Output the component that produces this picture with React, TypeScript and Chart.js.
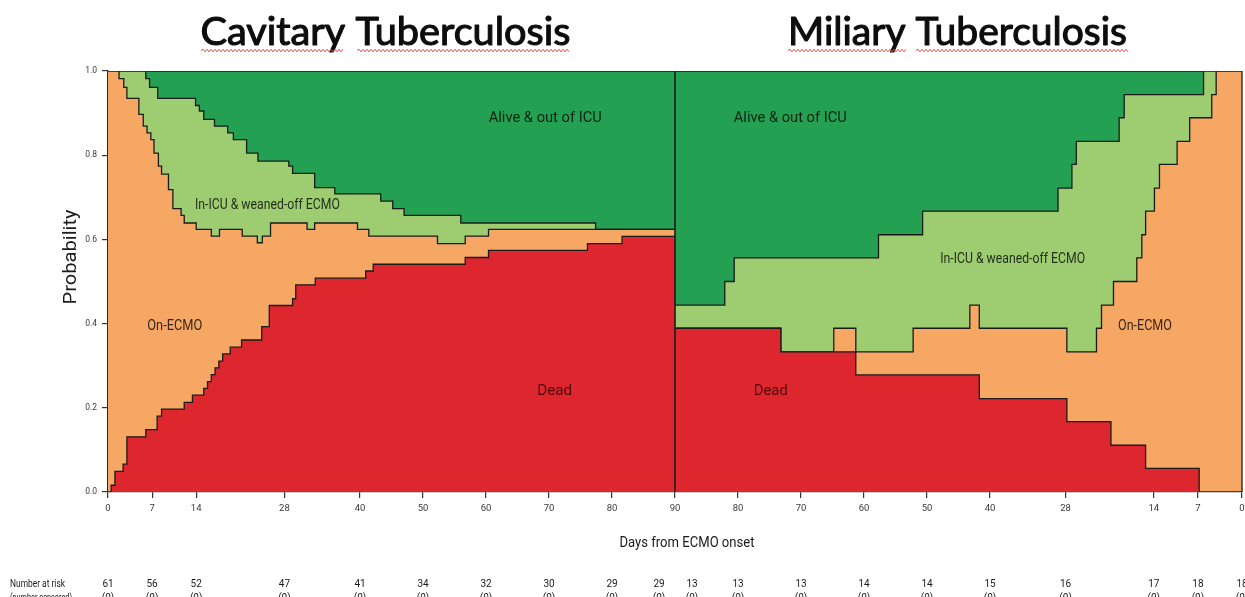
import React, { useEffect, useRef } from 'react';
import { Chart, registerables } from 'chart.js';

Chart.register(...registerables);

// ---------- text ----------
const panelTitles = ['Cavitary Tuberculosis', 'Miliary Tuberculosis'];
const xAxisTitle = 'Days from ECMO onset';
const yAxisTitle = 'Probability';
const riskRowLabel = 'Number at risk';
const censorRowLabel = '(number censored)';

// ---------- ticks ----------
const tickDays = [0, 7, 14, 28, 40, 50, 60, 70, 80, 90];
const yTicks = [0, 0.2, 0.4, 0.6, 0.8, 1.0];

// ---------- Cavitary TB (days forward) : cumulative state boundaries ----------
const cavDeadDays = [0, 0.5, 1.1, 2.4, 3.0, 6.0, 7.8, 8.5, 12.1, 13.4, 15.2, 15.8, 16.4, 17.0, 17.6, 18.2, 19.4, 21.2, 24.4, 25.6, 29.3, 29.8, 32.9, 40.9, 42.1, 56.7, 60.4, 76.1, 81.6];
const cavDead = [0, 0.016, 0.049, 0.066, 0.131, 0.148, 0.18, 0.197, 0.213, 0.23, 0.246, 0.262, 0.279, 0.295, 0.311, 0.328, 0.344, 0.361, 0.393, 0.443, 0.459, 0.492, 0.508, 0.525, 0.541, 0.557, 0.574, 0.59, 0.607];

const cavEcmoDays = [0, 1.75, 2.5, 3.0, 4.9, 5.6, 6.2, 6.8, 7.3, 8.0, 8.5, 9.6, 10.3, 11.6, 12.1, 14.0, 16.4, 17.7, 21.3, 23.7, 24.5, 25.8, 31.6, 32.8, 39.6, 41.4, 52.3, 56.7, 60.4];
const cavEcmoTop = [1.0, 0.982, 0.961, 0.935, 0.897, 0.869, 0.853, 0.837, 0.805, 0.774, 0.755, 0.718, 0.673, 0.657, 0.639, 0.624, 0.608, 0.624, 0.608, 0.592, 0.608, 0.639, 0.624, 0.639, 0.624, 0.608, 0.59, 0.608, 0.624];

const cavIcuDays = [0, 6.0, 6.6, 7.9, 13.9, 14.5, 15.2, 16.9, 19.0, 19.9, 22.0, 23.8, 28.7, 29.3, 32.8, 36.0, 43.3, 45.2, 47.0, 56.0, 77.4];
const cavIcuTop = [1.0, 0.982, 0.961, 0.935, 0.918, 0.905, 0.885, 0.869, 0.853, 0.837, 0.805, 0.786, 0.774, 0.757, 0.723, 0.708, 0.691, 0.673, 0.657, 0.639, 0.624];

// ---------- Miliary TB (days forward, drawn mirrored) ----------
const milDeadDays = [0, 6.8, 15.3, 20.8, 27.8, 41.7, 61.3, 73.2];
const milDead = [0, 0.056, 0.111, 0.167, 0.222, 0.278, 0.333, 0.389];

const milEcmoDays = [0, 4.1, 4.8, 8.3, 10.3, 13.1, 13.9, 15.3, 15.9, 16.7, 20.4, 22.3, 23.1, 27.8, 41.7, 43.2, 52.2, 61.3, 64.8, 73.2];
const milEcmoTop = [1.0, 0.944, 0.889, 0.833, 0.778, 0.722, 0.667, 0.611, 0.556, 0.5, 0.444, 0.389, 0.333, 0.389, 0.444, 0.389, 0.333, 0.389, 0.333, 0.389];

const milIcuDays = [0, 6.1, 18.7, 19.5, 26.3, 27.0, 29.2, 50.7, 57.7, 80.6, 82.1];
const milIcuTop = [1.0, 0.944, 0.889, 0.833, 0.778, 0.722, 0.667, 0.611, 0.556, 0.5, 0.444];

// ---------- numbers at risk (by tickDays) ----------
const riskCav = [61, 56, 52, 47, 41, 34, 32, 30, 29, 29];
const riskMil = [18, 18, 17, 16, 15, 14, 14, 13, 13, 13];
const censCav = [0, 0, 0, 0, 0, 0, 0, 0, 0, 0];
const censMil = [0, 0, 0, 0, 0, 0, 0, 0, 0, 0];

// ---------- styling ----------
const COLORS = {
  alive: '#23a052',
  icu: '#9dcc71',
  ecmo: '#f6a764',
  dead: '#dd262e',
};
const LINE = '#1b1b1b';
const END_DAY = 90;
const MIRROR = 180;

function leftPoints(days: number[], vals: number[]) {
  const pts = days.map((d, i) => ({ x: d, y: vals[i] }));
  pts.push({ x: END_DAY, y: vals[vals.length - 1] });
  return pts;
}
// mirrored panel: x = 180 - day; ascending x, each point carries the value held to its right
function rightPoints(days: number[], vals: number[]) {
  const n = days.length;
  const pts: { x: number; y: number }[] = [];
  pts.push({ x: MIRROR - END_DAY, y: vals[n - 1] });
  for (let i = n - 1; i >= 0; i--) {
    pts.push({ x: MIRROR - days[i], y: i > 0 ? vals[i - 1] : vals[0] });
  }
  return pts;
}

function drawText(ctx: CanvasRenderingContext2D, text: string, cx: number, cy: number, font: string, color: string, targetW?: number, align: CanvasTextAlign = 'center', baseline: CanvasTextBaseline = 'middle', rot = 0, strokeW = 0) {
  ctx.save();
  ctx.font = font;
  ctx.fillStyle = color;
  ctx.textAlign = align;
  ctx.textBaseline = baseline;
  ctx.translate(cx, cy);
  if (rot) ctx.rotate(rot);
  if (targetW) {
    const w = ctx.measureText(text).width;
    if (w > 0) ctx.scale(targetW / w, 1);
  }
  ctx.fillText(text, 0, 0);
  if (strokeW) {
    ctx.strokeStyle = color;
    ctx.lineWidth = strokeW;
    ctx.lineJoin = 'round';
    ctx.strokeText(text, 0, 0);
  }
  ctx.restore();
}

function squiggle(ctx: CanvasRenderingContext2D, x1: number, x2: number, y: number) {
  ctx.save();
  ctx.strokeStyle = '#e4504c';
  ctx.lineWidth = 1;
  ctx.beginPath();
  let up = true;
  ctx.moveTo(x1, y);
  for (let x = x1 + 2; x <= x2; x += 2) {
    ctx.lineTo(x, up ? y - 1.3 : y + 1.3);
    up = !up;
  }
  ctx.stroke();
  ctx.restore();
}

const decorPlugin = {
  id: 'decor',
  afterDatasetsDraw(chart: any) {
    const { ctx, chartArea, scales } = chart;
    const xs = scales.x;
    const ys = scales.y;
    // panel divider and frame
    ctx.save();
    ctx.strokeStyle = LINE;
    ctx.lineWidth = 1.6;
    const xd = xs.getPixelForValue(END_DAY);
    ctx.beginPath();
    ctx.moveTo(xd, ys.getPixelForValue(1));
    ctx.lineTo(xd, ys.getPixelForValue(0));
    ctx.stroke();
    ctx.lineWidth = 1.3;
    ctx.beginPath();
    ctx.moveTo(chartArea.right, chartArea.top);
    ctx.lineTo(chartArea.right, chartArea.bottom);
    ctx.stroke();
    ctx.restore();

    // state labels inside the plot
    const lf = '14.5px Roboto';
    const lc = 'rgba(0,0,0,0.78)';
    const lab = (t: string, x: number, y: number, w: number) =>
      drawText(ctx, t, xs.getPixelForValue(x), ys.getPixelForValue(y), lf, lc, w);
    lab('Alive & out of ICU', 69.4, 0.888, 113);
    lab('Alive & out of ICU', 108.3, 0.888, 113);
    lab('In-ICU & weaned-off ECMO', 25.3, 0.682, 145);
    lab('In-ICU & weaned-off ECMO', 143.6, 0.553, 145);
    lab('On-ECMO', 10.6, 0.394, 55);
    lab('On-ECMO', 164.6, 0.393, 54);
    drawText(ctx, 'Dead', xs.getPixelForValue(70.9), ys.getPixelForValue(0.238), lf, 'rgba(60,0,0,0.85)', 35);
    drawText(ctx, 'Dead', xs.getPixelForValue(105.2), ys.getPixelForValue(0.238), lf, 'rgba(60,0,0,0.85)', 34);
  },
  afterDraw(chart: any) {
    const { ctx, scales } = chart;
    const xs = scales.x;
    // titles
    const tf = '38px Lato';
    drawText(ctx, panelTitles[0], 385.5, 45, tf, '#0d0d0d', 370, 'center', 'alphabetic', 0, 1.1);
    drawText(ctx, panelTitles[1], 957.5, 45, tf, '#0d0d0d', 339, 'center', 'alphabetic', 0, 1.1);
    squiggle(ctx, 201, 344, 50.5);
    squiggle(ctx, 357, 570, 50.5);
    squiggle(ctx, 788, 907, 50.5);
    squiggle(ctx, 916, 1128, 50.5);

    // axis titles
    drawText(ctx, yAxisTitle, 71, 257, '18px Roboto', '#1a1a1a', 95, 'center', 'middle', -Math.PI / 2);
    drawText(ctx, xAxisTitle, 687, 543, '15px Roboto', '#1a1a1a', 135);

    // number at risk table
    const rf = '10px Roboto';
    const rc = '#1a1a1a';
    const rowY = 587;
    const cenY = 601;
    drawText(ctx, riskRowLabel, 10, rowY, rf, rc, 55, 'left', 'alphabetic');
    drawText(ctx, censorRowLabel, 10, cenY, rf, rc, 62, 'left', 'alphabetic');
    tickDays.forEach((d, i) => {
      let px = xs.getPixelForValue(d);
      if (d === END_DAY) px -= 16;
      drawText(ctx, String(riskCav[i]), px, rowY, rf, rc, undefined, 'center', 'alphabetic');
      drawText(ctx, '(' + censCav[i] + ')', px, cenY, rf, rc, undefined, 'center', 'alphabetic');
    });
    tickDays.forEach((d, i) => {
      let px = xs.getPixelForValue(MIRROR - d);
      if (d === END_DAY) px += 17;
      drawText(ctx, String(riskMil[i]), px, rowY, rf, rc, undefined, 'center', 'alphabetic');
      drawText(ctx, '(' + censMil[i] + ')', px, cenY, rf, rc, undefined, 'center', 'alphabetic');
    });
  },
};

export default function App() {
  const ref = useRef<HTMLCanvasElement | null>(null);
  useEffect(() => {
    if (!ref.current) return;
    const base = { pointRadius: 0, borderColor: LINE, borderWidth: 1.3, fill: 'origin' as const, tension: 0 };
    const xTickValues = [...tickDays, ...tickDays.filter((d) => d < END_DAY).map((d) => MIRROR - d)];
    const chart = new Chart(ref.current, {
      type: 'line',
      data: {
        datasets: [
          { ...base, label: 'Dead (cavitary)', data: leftPoints(cavDeadDays, cavDead), backgroundColor: COLORS.dead, stepped: 'before', order: 0 },
          { ...base, label: 'Dead (miliary)', data: rightPoints(milDeadDays, milDead), backgroundColor: COLORS.dead, stepped: 'before', order: 0 },
          { ...base, label: 'On-ECMO (cavitary)', data: leftPoints(cavEcmoDays, cavEcmoTop), backgroundColor: COLORS.ecmo, stepped: 'before', order: 1 },
          { ...base, label: 'On-ECMO (miliary)', data: rightPoints(milEcmoDays, milEcmoTop), backgroundColor: COLORS.ecmo, stepped: 'before', order: 1 },
          { ...base, label: 'In-ICU & weaned-off ECMO (cavitary)', data: leftPoints(cavIcuDays, cavIcuTop), backgroundColor: COLORS.icu, stepped: 'before', order: 2 },
          { ...base, label: 'In-ICU & weaned-off ECMO (miliary)', data: rightPoints(milIcuDays, milIcuTop), backgroundColor: COLORS.icu, stepped: 'before', order: 2 },
          { ...base, label: 'Alive & out of ICU', data: [{ x: 0, y: 1 }, { x: MIRROR, y: 1 }], backgroundColor: COLORS.alive, order: 3 },
        ],
      },
      options: {
        responsive: false,
        animation: false,
        events: [],
        layout: { padding: { top: 71, left: 0, right: 3, bottom: 0 } },
        plugins: { legend: { display: false }, tooltip: { enabled: false }, title: { display: false } },
        scales: {
          x: {
            type: 'linear',
            min: 0,
            max: MIRROR,
            afterFit: (s: any) => { s.height = 105; },
            afterBuildTicks: (s: any) => { s.ticks = xTickValues.map((v) => ({ value: v })); },
            grid: { display: true, drawOnChartArea: false, drawTicks: true, tickLength: 6, color: '#333', lineWidth: 1.2 },
            border: { display: true, color: '#2a2a2a', width: 1.3 },
            ticks: {
              autoSkip: false,
              maxRotation: 0,
              padding: 5,
              color: '#3a3a3a',
              font: { family: 'Roboto', size: 9.5 },
              callback: (v: any) => String(v <= END_DAY ? v : MIRROR - v),
            },
          },
          y: {
            type: 'linear',
            min: 0,
            max: 1,
            afterFit: (s: any) => { s.width = 108; },
            afterBuildTicks: (s: any) => { s.ticks = yTicks.map((v) => ({ value: v })); },
            grid: { display: true, drawOnChartArea: false, drawTicks: true, tickLength: 6, color: '#333', lineWidth: 1.2 },
            border: { display: true, color: '#2a2a2a', width: 1.3 },
            ticks: {
              padding: 5,
              color: '#3a3a3a',
              font: { family: 'Roboto', size: 8.5 },
              callback: (v: any) => Number(v).toFixed(1),
            },
          },
        },
      },
      plugins: [decorPlugin],
    });
    return () => chart.destroy();
  }, []);
  return (
    <div style={{ position: 'fixed', left: 0, top: 0, width: 1245, height: 597, background: '#fff' }}>
      <canvas ref={ref} width={1245} height={597} style={{ display: 'block' }} />
    </div>
  );
}
